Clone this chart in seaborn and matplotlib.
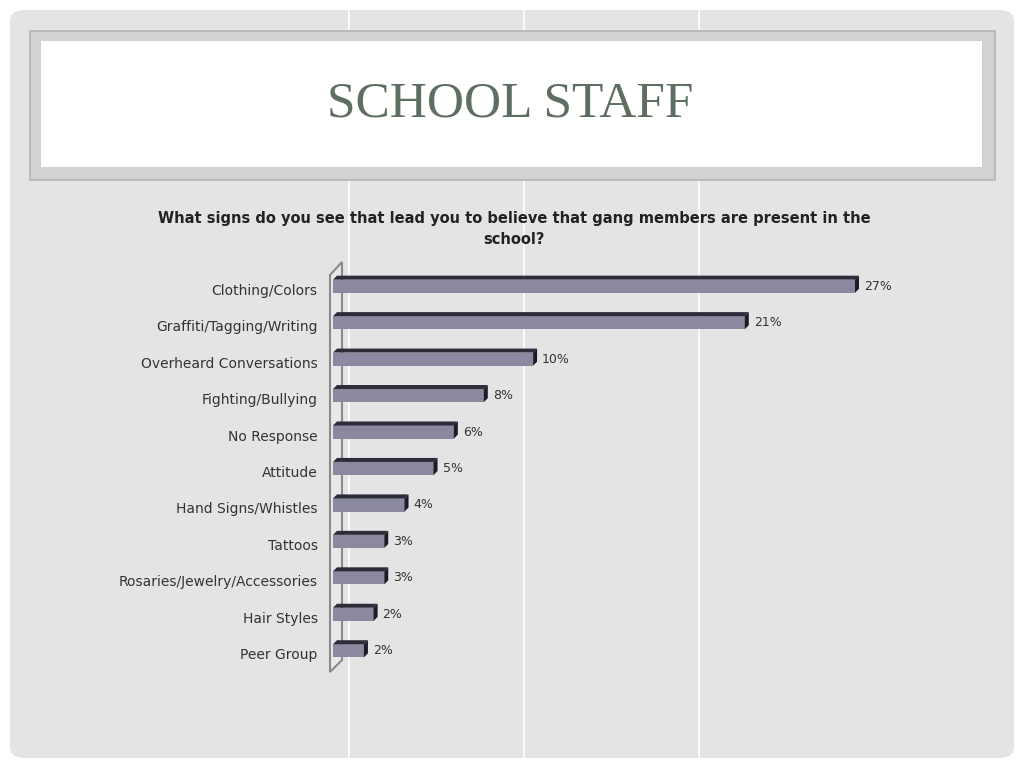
import numpy as np
import pandas as pd
import matplotlib.pyplot as plt
import seaborn as sns
import matplotlib.transforms as mtransforms
from matplotlib.patches import FancyBboxPatch, Rectangle, Polygon
from matplotlib.lines import Line2D

# Données (longueurs de barres estimées, étiquettes arrondies)
categories = ['Clothing/Colors', 'Graffiti/Tagging/Writing', 'Overheard Conversations',
              'Fighting/Bullying', 'No Response', 'Attitude', 'Hand Signs/Whistles',
              'Tattoos', 'Rosaries/Jewelry/Accessories', 'Hair Styles', 'Peer Group']
values = [27.0, 21.3, 10.35, 7.8, 6.25, 5.2, 3.7, 2.65, 2.65, 2.1, 1.6]
value_labels = ['27%', '21%', '10%', '8%', '6%', '5%', '4%', '3%', '3%', '2%', '2%']

slide_title = 'SCHOOL STAFF'
chart_title = 'What signs do you see that lead you to believe that gang members are present in the\nschool?'

W, H = 1024, 768
FRONT = '#8a89a0'
TOP = '#2c2c3a'
SIDE = '#1c1c26'

sns.set_theme(style='white')
plt.rcParams['font.family'] = ['DejaVu Sans']

fig = plt.figure(figsize=(W / 100, H / 100), dpi=100)
fig.patch.set_facecolor('white')


def fx(x):
    return x / W


def fy(y):
    return 1 - y / H


# fond de la diapositive
fig.patches.append(FancyBboxPatch((fx(10), fy(758)), fx(1004), 748 / H,
                                  boxstyle='round,pad=0,rounding_size=0.015',
                                  transform=fig.transFigure, facecolor='#e4e4e4',
                                  edgecolor='none', zorder=0))
for x in [349, 524, 699]:
    fig.lines.append(Line2D([fx(x), fx(x)], [0, 1], transform=fig.transFigure,
                            color='white', lw=1.2, zorder=1))

# cadre du titre
fig.patches.append(Rectangle((fx(30), fy(180)), fx(965), 149 / H, transform=fig.transFigure,
                             facecolor='#d2d2d2', edgecolor='#b4b4b4', lw=1.2, zorder=2))
fig.patches.append(Rectangle((fx(41), fy(167)), fx(941), 126 / H, transform=fig.transFigure,
                             facecolor='white', edgecolor='none', zorder=3))
fig.text(fx(510), fy(104), slide_title, ha='center', va='center', fontsize=37,
         family='Liberation Serif', color='#5e6e60', zorder=4)

fig.text(fx(514), fy(229), chart_title, ha='center', va='center', fontsize=10.5,
         fontweight='bold', color='#222222', linespacing=1.55, zorder=4)

# paroi 3D à gauche
wall = [(330, 275), (342, 262), (342, 660), (330, 672)]
fig.patches.append(Polygon([(fx(a), fy(b)) for a, b in wall], closed=True,
                           transform=fig.transFigure, facecolor='#e8e8e8',
                           edgecolor='#8a8a8a', lw=1.5, zorder=4))

ax = fig.add_axes([fx(333), fy(669), 580 / W, 401 / H], zorder=5)
ax.set_facecolor('none')
df = pd.DataFrame({'cat': categories, 'val': values})
sns.barplot(data=df, x='val', y='cat', orient='h', color=FRONT, width=0.36,
            saturation=1, ax=ax, edgecolor='none')
ax.set_xlim(0, 30)
ax.set_ylim(len(categories) - 0.5, -0.5)

px_x = 580 / 30
px_y = 401 / len(categories)
dx = 4 / px_x
dy = 4 / px_y

for p, lab in zip(ax.patches, value_labels):
    x0, y, w, h = p.get_x(), p.get_y(), p.get_width(), p.get_height()
    x1 = x0 + w
    ax.add_patch(Polygon([(x0, y), (x1, y), (x1 + dx, y - dy), (x0 + dx, y - dy)],
                         closed=True, facecolor=TOP, edgecolor='none', clip_on=False))
    ax.add_patch(Polygon([(x1, y), (x1 + dx, y - dy), (x1 + dx, y + h - dy), (x1, y + h)],
                         closed=True, facecolor=SIDE, edgecolor='none', clip_on=False))
    ax.text(x1 + dx + 5 / px_x, y + h / 2, lab, ha='left', va='center',
            fontsize=9, color='#333333')

ax.set_xlabel('')
ax.set_ylabel('')
ax.set_xticks([])
ax.tick_params(axis='y', length=0, pad=11, labelsize=10, labelcolor='#333333')
shift = mtransforms.ScaledTranslation(0, -3 / 100, fig.dpi_scale_trans)
for lbl in ax.get_yticklabels():
    lbl.set_transform(lbl.get_transform() + shift)
for s in ax.spines.values():
    s.set_visible(False)

fig.savefig('out.png', dpi=100, facecolor=fig.get_facecolor())
